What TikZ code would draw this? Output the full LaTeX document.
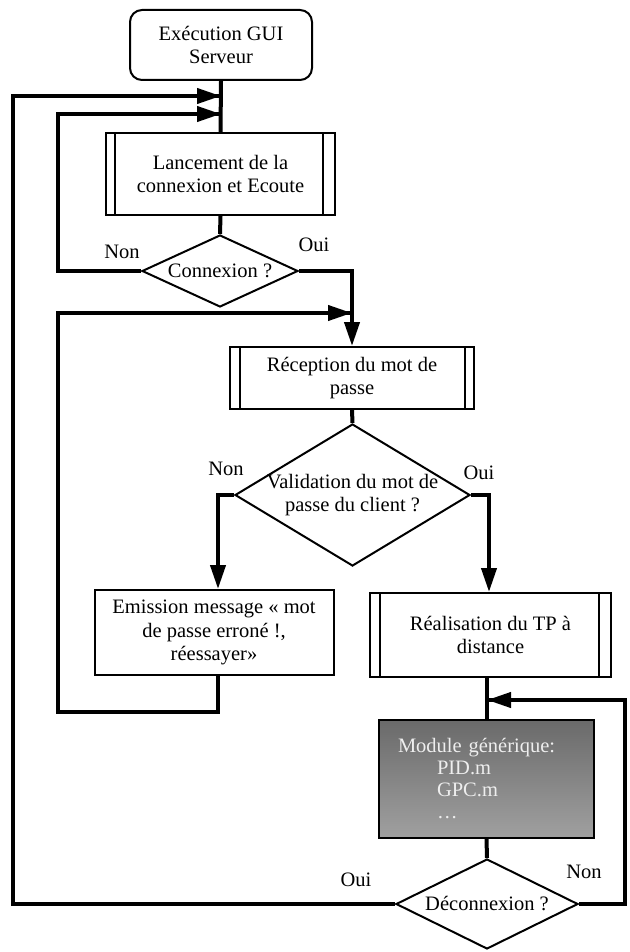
\documentclass[tikz,border=0pt]{standalone}
\usepackage{fontspec}
\setmainfont{Liberation Serif}
\usetikzlibrary{shapes.geometric,arrows.meta}

\definecolor{modtop}{HTML}{6A6A6A}
\definecolor{modbot}{HTML}{A0A0A0}
\definecolor{modtext}{HTML}{EEEEEE}

\tikzset{
  txt/.style={font=\fontsize{20.5}{23.5}\selectfont, align=center, inner sep=0pt},
  box/.style={draw, line width=2pt, inner sep=0pt, txt},
  startbox/.style={box, rounded corners=12pt},
  subbox/.style 2 args={box, path picture={
      \draw[line width=2pt]
        ([xshift=#1]path picture bounding box.north west) --
        ([xshift=#1]path picture bounding box.south west);
      \draw[line width=2.5pt]
        ([xshift=-#2]path picture bounding box.north east) --
        ([xshift=-#2]path picture bounding box.south east);}},
  decision/.style={draw, diamond, line width=2pt, inner sep=0pt},
  flow/.style={line width=4pt},
  flowarrow/.style={flow, -{Triangle[length=24pt,width=15pt]}},
  lbl/.style={txt}
}

\begin{document}
\begin{tikzpicture}[x=1pt, y=-1pt]
  \useasboundingbox (0,0) rectangle (629,952);

  % start
  \node[startbox, minimum width=182pt, minimum height=70pt] (start) at (221,45)
    {Exécution GUI\\Serveur};

  % listening
  \node[subbox={9pt}{12pt}, minimum width=229pt, minimum height=82pt] (listen) at (220.5,174)
    {Lancement de la\\connexion et Ecoute};

  \node[decision, minimum width=156pt, minimum height=72pt,
        label={[txt]center:Connexion ?}] (conn) at (220,271) {};

  % password reception
  \node[subbox={10pt}{9pt}, minimum width=244pt, minimum height=62pt] (recv) at (352,378)
    {Réception du mot de\\passe};

  \node[decision, minimum width=235pt, minimum height=142pt,
        label={[txt]center:Validation du mot de\\passe du client ?}] (valid) at (352.5,495) {};

  % error message
  \node[box, minimum width=239pt, minimum height=85pt] (err) at (214,632.5)
    {Emission message « mot\\de passe erroné !,\\réessayer»};

  % remote lab
  \node[subbox={10pt}{12pt}, minimum width=241pt, minimum height=84pt] (tp) at (490.5,635)
    {Réalisation du TP à\\distance};

  % generic module
  \node[draw=black, line width=1.5pt, top color=modtop, bottom color=modbot,
        minimum width=215pt, minimum height=118pt, text width=177pt, inner xsep=19pt,
        inner ysep=0pt, align=left, text=modtext,
        font=\fontsize{20.5}{22}\selectfont] (mod) at (486.5,779)
    {Module générique:\\\hspace*{39pt}PID.m\\\hspace*{39pt}GPC.m\\\hspace*{39pt}…};

  \node[decision, minimum width=182pt, minimum height=90pt,
        label={[txt]center:Déconnexion ?}] (disc) at (487,904) {};

  % corner points of the loops
  \coordinate (jA) at (221,96);
  \coordinate (jB) at (221,114);
  \coordinate (jC) at (352,313);
  \coordinate (jD) at (487,700);
  \coordinate (oL) at (13,96);
  \coordinate (oB) at (13,904);
  \coordinate (nL) at (58,114);
  \coordinate (nB) at (58,271);
  \coordinate (eL) at (58,313);
  \coordinate (eB) at (58,712);
  \coordinate (eR) at (218,712);
  \coordinate (yR) at (352,271);
  \coordinate (vL) at (218,495);
  \coordinate (vR) at (489,495);
  \coordinate (dR) at (625,904);
  \coordinate (dT) at (625,700);

  % main vertical flow
  \draw[flow] (start.south) -- (listen.north);
  \draw[flow] (listen.south) -- (conn.north);
  \draw[flow] (recv.south) -- (valid.north);
  \draw[flow] (tp.south -| mod.north) -- (mod.north);
  \draw[flow] (mod.south) -- (disc.north);

  % connection test
  \draw[flow, line join=miter] (conn.west) -- (nB) -- (nL) -- (jB);
  \draw[flowarrow] (nL) -- (jB);
  \draw[flowarrow, line join=miter] (conn.east) -- (yR) -- (recv.north);

  % password check
  \draw[flowarrow, line join=miter] (valid.west) -- (vL) -- (err.north -| vL);
  \draw[flowarrow, line join=miter] (valid.east) -- (vR) -- (tp.north -| vR);

  % retry loop
  \draw[flow, line join=miter] (err.south -| eR) -- (eR) -- (eB) -- (eL) -- (jC);
  \draw[flowarrow] (eL) -- (jC);

  % disconnect loops
  \draw[flow, line join=miter] (disc.west) -- (oB) -- (oL) -- (jA);
  \draw[flowarrow] (oL) -- (jA);
  \draw[flow, line join=miter] (disc.east) -- (dR) -- (dT) -- (jD);
  \draw[flowarrow] (dT) -- (jD);

  % branch labels
  \node[lbl] (l1) at (122,252) {Non};
  \node[lbl] (l2) at (314,245) {Oui};
  \node[lbl] (l3) at (226,469) {Non};
  \node[lbl] (l4) at (479,473) {Oui};
  \node[lbl] (l5) at (356,880) {Oui};
  \node[lbl] (l6) at (584,872) {Non};
\end{tikzpicture}
\end{document}
